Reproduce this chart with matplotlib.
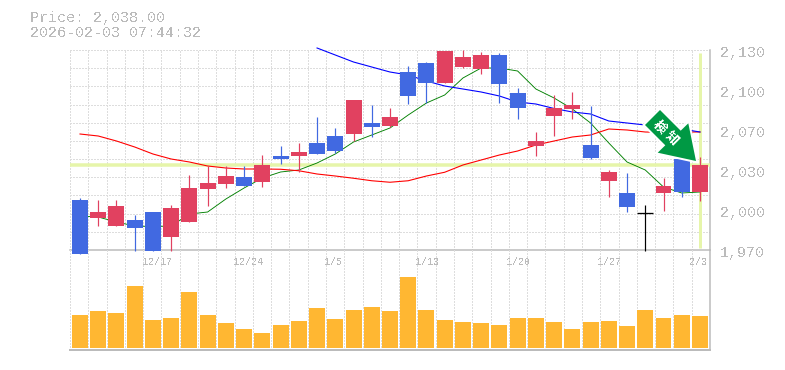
import numpy as np
import matplotlib
matplotlib.use('Agg')
import matplotlib.pyplot as plt
from matplotlib.patches import Polygon

plt.rcParams['text.antialiased'] = False
plt.rcParams['font.family'] = ['Liberation Mono', 'DejaVu Sans']

# Candle data, oldest first ('b' = falling, 'r' = rising, 'k' = unchanged)
colors = list('brrbbrrrrbrbrbbrbrbbrrrbbrrrbrbkrbr')
body_top = [2010, 2000.4, 2005.2, 1994, 2000.4, 2003.6, 2019.6, 2023.6, 2029.2, 2028.4,
            2038, 2045.2, 2048.4, 2055.6, 2061.2, 2090, 2071.6, 2076.4, 2112.4, 2119.6,
            2129.2, 2124.4, 2126, 2126, 2095.6, 2057.2, 2083.6, 2086, 2054, 2032.4,
            2015.6, 2000, 2021.2, 2043, 2038]
body_bottom = [1966.8, 1995.6, 1989.2, 1987.6, 1969.2, 1980.4, 1992.4, 2018.8, 2022.8, 2021.2,
               2024.4, 2042.8, 2045.2, 2046.8, 2049.2, 2062.8, 2068.4, 2069.2, 2093.2, 2103.6,
               2103.6, 2116.4, 2114.8, 2102.8, 2083.6, 2053.2, 2077.2, 2082.8, 2043.6, 2025.2,
               2004.4, 2000, 2015.6, 2016.4, 2016.4]
high = [2011.4, 2010, 2010, 1998, 2000.4, 2006, 2030, 2037.2, 2037.2, 2037.2,
        2046, 2053.2, 2055.6, 2076.4, 2067.6, 2090, 2086, 2083.6, 2117.2, 2120.4,
        2129.2, 2130, 2128.4, 2127.6, 2099.6, 2064.4, 2094, 2096.4, 2085.2, 2034,
        2031.6, 2006, 2027.6, 2043, 2044.4]
low = [1966.8, 1989.2, 1989.2, 1969.4, 1969.2, 1969.4, 1992.4, 2005.2, 2019.6, 2021.2,
       2020.4, 2038.8, 2032.4, 2046.8, 2047.6, 2057.2, 2060.4, 2068.4, 2086.8, 2087.6,
       2103.6, 2115.6, 2110.8, 2087.6, 2074.8, 2045.2, 2061.2, 2074.8, 2042.8, 2012.4,
       2000.4, 1969.2, 2001.2, 2012.4, 2009.2]

# Moving averages
ma_short = [1997.2, 1996.4, 1992.4, 1989.2, 1988.8, 1989.2, 1998.8, 2000.4, 2010.8, 2019.6,
            2027.6, 2032.4, 2034, 2039.6, 2046.8, 2056.4, 2062, 2067.6, 2078, 2087.6,
            2094, 2107.6, 2115.6, 2115.6, 2113.2, 2098.8, 2091.6, 2082.8, 2071.6, 2055.6,
            2040.4, 2034, 2020.4, 2015.6, 2016.4]
ma_mid = [2062.8, 2061.2, 2057.2, 2052.4, 2046.8, 2042.8, 2040.4, 2037.2, 2035.6, 2034.8,
          2034.8, 2034.6, 2033.4, 2030.8, 2029.2, 2027.4, 2025.4, 2024.2, 2025.4, 2029.2,
          2032.2, 2038, 2042, 2046, 2049.2, 2054, 2057.2, 2060.4, 2062, 2066.8,
          2066, 2064.4, 2064, 2064.4, 2064.4]
ma_long = [2131.6, 2126, 2120.4, 2116.4, 2112.4, 2110, 2105.2, 2101.2, 2098.8, 2096.4,
           2093.2, 2088.4, 2086.8, 2083.2, 2080.4, 2078.8, 2073.2, 2071.6, 2070, 2068.4,
           2066.8, 2064.4]

# Volume bars, read off in pixels since the panel has no scale
volume = [33, 37, 35, 62, 28, 30, 56, 33, 25, 19, 15, 23, 27, 40, 29, 38, 41, 37,
          71, 38, 28, 26, 25, 23, 30, 30, 26, 19, 26, 27, 22, 38, 30, 33, 32]

price_labels = ['2,130', '2,100', '2,070', '2,030', '2,000', '1,970']
price_ticks = [2130, 2098, 2066, 2034, 2002, 1970]
date_labels = ['12/17', '12/24', '1/5', '1/13', '1/20', '1/27', '2/3']
date_ticks = [4, 9, 14, 19, 24, 29, 34]
last_price = 2038
header = ['Price: 2,038.00', '2026-02-03 07:44:32']

W, H = 785, 370
GRAY = '#bbbbbb'
GRID = '#dddddd'
PALE = '#e6f5aa'
candle_colors = {'b': '#4169e1', 'r': '#e14160', 'k': '#000000'}
PX = 0.72  # one pixel in points at dpi 100


def px_axes(x0, y0, x1, y1):
    return fig.add_axes([x0 / W, 1 - y1 / H, (x1 - x0) / W, (y1 - y0) / H])


fig = plt.figure(figsize=(W / 100, H / 100), dpi=100)
ax = px_axes(70, 50, 710, 250)
vol = px_axes(70, 250, 710, 350)

x = np.arange(len(volume))
xlim = (-0.548, 34.55)
for a in (ax, vol):
    a.set_xlim(xlim)
    a.patch.set_alpha(0)
    for s in a.spines.values():
        s.set_visible(False)
    a.set_xticks([])
    a.set_yticks([])
    # dotted vertical grid between the bars
    for gx in np.linspace(xlim[0], xlim[1], 36):
        a.axvline(gx, color=GRID, lw=PX, ls=(0, (2, 2)), antialiased=False, zorder=1)
ax.set_ylim(1970, 2130)
vol.set_ylim(-2, 98)

for gy in np.linspace(1970, 2130, 12)[1:]:
    ax.axhline(gy, color=GRID, lw=PX, ls=(0, (2, 2)), antialiased=False, zorder=1)

# Panel borders
ax.axhline(1970, color=GRAY, lw=1.5 * PX, zorder=2, clip_on=False)
vol.axhline(-2, color=GRAY, lw=2 * PX, zorder=2, clip_on=False)
ax.axvline(xlim[1], color=GRAY, lw=1.5 * PX, zorder=2, clip_on=False)
vol.axvline(xlim[1], color=GRAY, lw=1.5 * PX, zorder=2, clip_on=False)

# Current price and current date markers
ax.axhline(last_price, color=PALE, lw=3.5 * PX, zorder=2)
ax.vlines(x[-1], 1972, 2128, color=PALE, lw=3 * PX, zorder=2)

# Moving averages
ax.plot(x, ma_short, color='#008000', lw=0.9 * PX, zorder=3, clip_on=False)
ax.plot(x, ma_mid, color='#ff0000', lw=1.1 * PX, zorder=3)
ax.plot(x[-len(ma_long):], ma_long, color='#0000ff', lw=1.1 * PX, zorder=3, clip_on=False)

# Candles
c = [candle_colors[k] for k in colors]
ax.vlines(x, low, high, colors=c, lw=1.2 * PX, zorder=4, clip_on=False)
ax.bar(x, np.array(body_top) - np.array(body_bottom), bottom=body_bottom, width=0.877,
       color=c, zorder=5, clip_on=False)
for i in x:
    if colors[i] == 'k':
        ax.hlines(body_top[i], i - 0.44, i + 0.44, color='k', lw=1.3 * PX, zorder=5)

# Volume
vol.bar(x, volume, width=0.877, color='#ffb732', zorder=3)

# Axis labels
for label, tick in zip(price_labels, price_ticks):
    ax.annotate(label, (xlim[1], tick), xytext=(10, -3.5), textcoords='offset pixels',
                fontsize=15 * PX, color=GRAY, va='center', ha='left', annotation_clip=False)
for label, tick in zip(date_labels, date_ticks):
    ax.annotate(label, (tick, 1970), xytext=(-11, -12), textcoords='offset pixels',
                fontsize=10 * PX, color=GRAY, va='center', ha='left', annotation_clip=False)

fig.text(30 / W, 1 - 18 / H, header[0], fontsize=15 * PX, color=GRAY, va='center')
fig.text(30 / W, 1 - 33 / H, header[1], fontsize=15 * PX, color=GRAY, va='center')

# Signal arrow on top of the chart, white halo under the green
arrow = [(660, 110), (645, 125), (665.3, 145.3), (657.7, 152.7), (696, 161),
         (688.3, 123.3), (680.7, 130.7)]
arrow = [(px / W, 1 - py / H) for px, py in arrow]
fig.add_artist(Polygon(arrow, closed=True, transform=fig.transFigure, facecolor='white',
                       edgecolor='white', lw=4 * PX, zorder=10))
fig.add_artist(Polygon(arrow, closed=True, transform=fig.transFigure, facecolor='#009944',
                       edgecolor='none', zorder=10.5))
for ch, (tx, ty) in zip('検知', [(660, 126.7), (671.7, 138.3)]):
    fig.text(tx / W, 1 - ty / H, ch, fontsize=13 * PX, color='white', rotation=-45,
             ha='center', va='center', family=['Noto Sans CJK JP', 'DejaVu Sans'],
             fontweight='bold', zorder=11)

fig.savefig('out.png', dpi=100)
